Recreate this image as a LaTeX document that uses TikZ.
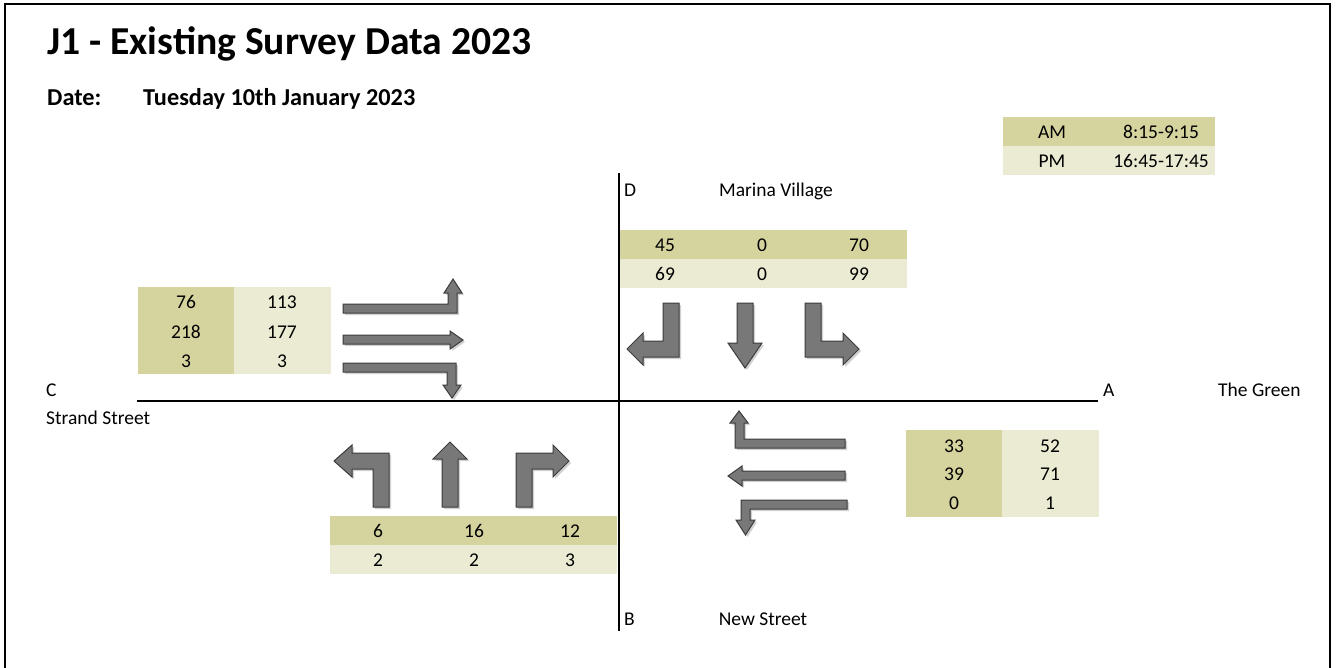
\documentclass[tikz,border=0pt]{standalone}
\usepackage{fontspec}
\setmainfont{Carlito}
\definecolor{olivedark}{RGB}{214,212,158}
\definecolor{olivelight}{RGB}{235,234,210}
\definecolor{arrowfill}{RGB}{120,120,120}
\definecolor{arrowedge}{RGB}{60,60,60}
\begin{document}
\begin{tikzpicture}[x=1pt,y=-1pt,
  lbl/.style={font=\fontsize{19.5}{22}\selectfont, inner sep=0pt},
  blockarrow/.style={fill=arrowfill, draw=arrowedge, line width=1pt, line join=miter},
  arrowshadow/.style={fill=black, opacity=0.18, draw=none},
  darkcell/.style={fill=olivedark, draw=none},
  lightcell/.style={fill=olivelight, draw=none},
  road/.style={line width=1.4pt, draw=black}
]
\useasboundingbox (0,0) rectangle (1337,667);
% frame
\draw[line width=2pt] (5,4) rectangle (1330,672);

% title and date
\node[anchor=base west, inner sep=0pt, font=\fontsize{39.6}{44}\selectfont\bfseries] (title) at (47,54) {J1 - Existing Survey Data 2023};
\node[anchor=base west, inner sep=0pt, font=\fontsize{24.3}{27}\selectfont\bfseries] (datelbl) at (47,105) {Date:};
\node[anchor=base west, inner sep=0pt, font=\fontsize{24.3}{27}\selectfont\bfseries] (datetxt) at (143,105) {Tuesday 10th January 2023};

% legend
\fill[darkcell] (1003,117) rectangle (1215,146);
\fill[lightcell] (1003,146) rectangle (1215,175);
\node[lbl] (am) at (1052,132) {AM};
\node[lbl] (amt) at (1161,132) {8:15-9:15};
\node[lbl] (pm) at (1052,161) {PM};
\node[lbl] (pmt) at (1161,161) {16:45-17:45};

% tables
% D (top)
\fill[darkcell] (619,230) rectangle (907,259);
\fill[lightcell] (619,259) rectangle (907,288);
\node[lbl] (d1) at (665,245) {45};
\node[lbl] (d2) at (762,245) {0};
\node[lbl] (d3) at (859,245) {70};
\node[lbl] (d4) at (665,274) {69};
\node[lbl] (d5) at (762,274) {0};
\node[lbl] (d6) at (859,274) {99};
% C (left)
\fill[darkcell] (138,287) rectangle (234,374);
\fill[lightcell] (234,287) rectangle (331,374);
\node[lbl] (c1) at (186,302) {76};
\node[lbl] (c2) at (282,302) {113};
\node[lbl] (c3) at (186,332) {218};
\node[lbl] (c4) at (282,332) {177};
\node[lbl] (c5) at (186,361) {3};
\node[lbl] (c6) at (282,361) {3};
% B (bottom)
\fill[darkcell] (330,516) rectangle (617,545);
\fill[lightcell] (330,545) rectangle (617,574);
\node[lbl] (b1) at (378,531) {6};
\node[lbl] (b2) at (474,531) {16};
\node[lbl] (b3) at (570,531) {12};
\node[lbl] (b4) at (378,560) {2};
\node[lbl] (b5) at (474,560) {2};
\node[lbl] (b6) at (570,560) {3};
% A (right)
\fill[darkcell] (906,430) rectangle (1002,517);
\fill[lightcell] (1002,430) rectangle (1099,517);
\node[lbl] (a1) at (954,446) {33};
\node[lbl] (a2) at (1050,446) {52};
\node[lbl] (a3) at (954,474) {39};
\node[lbl] (a4) at (1050,474) {71};
\node[lbl] (a5) at (954,503) {0};
\node[lbl] (a6) at (1050,503) {1};

% roads
\coordinate (nTop) at (619,173);
\coordinate (nBot) at (619,631);
\coordinate (wEnd) at (137,401);
\coordinate (eEnd) at (1098,401);
\draw[road] (nTop) -- (nBot);
\draw[road] (wEnd) -- (eEnd);

% road labels
\node[lbl, anchor=base west] (lD) at (624,196) {D};
\node[lbl, anchor=base] (lDn) at (776,196) {Marina Village};
\node[lbl, anchor=base west] (lB) at (624,625) {B};
\node[lbl, anchor=base] (lBn) at (763,625) {New Street};
\node[lbl, anchor=base west] (lC) at (46,396) {C};
\node[lbl, anchor=base west] (lCn) at (46,424) {Strand Street};
\node[lbl, anchor=base west] (lA) at (1103,396) {A};
\node[lbl, anchor=base west] (lAn) at (1218,396) {The Green};

% block arrows (shadow + body)
\newcommand{\blk}[1]{%
  \fill[arrowshadow, shift={(2,2)}] #1;
  \draw[blockarrow] #1;}
% D group
\blk{(663,303) -- (679,303) -- (679,357) -- (643,357) -- (643,365) -- (627,349) -- (643,333) -- (643,341) -- (663,341) -- cycle}
\blk{(737,303) -- (753,303) -- (753,343) -- (762,343) -- (745,368) -- (728,343) -- (737,343) -- cycle}
\blk{(805,303) -- (821,303) -- (821,341) -- (843,341) -- (843,333) -- (859,349) -- (843,365) -- (843,357) -- (805,357) -- cycle}
% B group
\blk{(373,507) -- (389,507) -- (389,453) -- (352,453) -- (352,445) -- (334,461) -- (352,477) -- (352,469) -- (373,469) -- cycle}
\blk{(442,507) -- (458,507) -- (458,459) -- (467,459) -- (450,442) -- (433,459) -- (442,459) -- cycle}
\blk{(516,507) -- (532,507) -- (532,469) -- (553,469) -- (553,477) -- (569,461) -- (553,445) -- (553,453) -- (516,453) -- cycle}
% C group
\blk{(343,304) -- (448,304) -- (448,293) -- (444,293) -- (453,279) -- (462,293) -- (457,293) -- (457,313) -- (343,313) -- cycle}
\blk{(343,335) -- (450,335) -- (450,331) -- (463,340) -- (450,349) -- (450,344) -- (343,344) -- cycle}
\blk{(343,363) -- (456,363) -- (456,385) -- (461,385) -- (452,398) -- (443,385) -- (447,385) -- (447,372) -- (343,372) -- cycle}
% A group
\blk{(845,439) -- (744,439) -- (744,423) -- (748,423) -- (739,411) -- (730,423) -- (735,423) -- (735,448) -- (845,448) -- cycle}
\blk{(845,471) -- (742,471) -- (742,466) -- (728,476) -- (742,486) -- (742,480) -- (845,480) -- cycle}
\blk{(847,500) -- (847,509) -- (750,509) -- (750,520) -- (755,520) -- (745.5,535) -- (736,520) -- (741,520) -- (741,500) -- cycle}
\end{tikzpicture}
\end{document}
